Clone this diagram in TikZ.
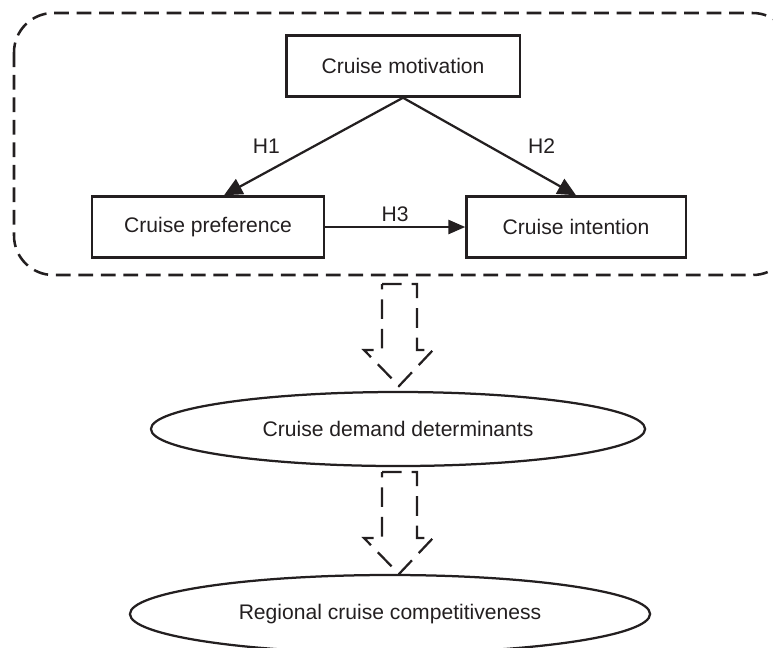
\documentclass[tikz,border=0pt]{standalone}
\usepackage{fontspec}
\setmainfont{Liberation Sans}
\usetikzlibrary{arrows.meta,shapes.geometric}
\definecolor{ink}{RGB}{35,31,32}
% hollow dashed arrow, centre x and top y given in pixel units
\def\hollowarrow(#1,#2){\draw[hollow] (#1-17,#2) -- (#1+18,#2) -- (#1+18,#2+66) -- (#1+34,#2+66) -- (#1,#2+102) -- (#1-35,#2+66) -- (#1-17,#2+66) -- cycle;}

\begin{document}
\begin{tikzpicture}[x=0.025cm, y=-0.025cm, font=\fontsize{15}{18}\selectfont,
	box/.style={draw=ink, line width=1.6pt, text=ink, minimum height=1.53cm},
	oval/.style={draw=ink, line width=1.6pt, text=ink, ellipse, inner sep=0pt},
	link/.style={draw=ink, line width=1.6pt, -{Triangle[length=13pt,width=12pt]}},
	lbl/.style={text=ink, inner sep=1pt},
	dashbox/.style={draw=ink, line width=1.8pt, dash pattern=on 10.5pt off 5.5pt, rounded corners=28pt},
	hollow/.style={draw=ink, line width=1.6pt, dash pattern=on 14pt off 7pt}]
	\clip (0,0) rectangle (773,647);
	
	%%%%% model %%%%%
	\draw[dashbox] (14,13) rectangle (792,275);
	
	\node[box, minimum width=5.83cm] (mot) at (403,66) {Cruise motivation};
	\node[box, minimum width=5.8cm] (pref) at (208,227) {Cruise preference};
	\node[box, minimum width=5.48cm] (int) at (576,227) {Cruise intention};
	
	\draw[link] (mot.south) -- ([xshift=0.4cm]pref.north) node[lbl, midway, xshift=-1.18cm] (h1) {H1};
	\draw[link] (mot.south) -- (int.north) node[lbl, midway, xshift=1.3cm] (h2) {H2};
	\draw[link, -{Triangle[length=12pt,width=10pt]}] (pref.east) -- (int.east -| int.west) node[lbl, midway, above=2pt] (h3) {H3};
	
	%%%%% determinants %%%%%
	\hollowarrow(399,284)
	\node[oval, minimum width=12.35cm, minimum height=1.85cm] (det) at (398,429) {Cruise demand determinants};
	
	\hollowarrow(399,472)
	\node[oval, minimum width=13cm, minimum height=1.95cm] (comp) at (390,614) {Regional cruise competitiveness};
\end{tikzpicture}
\end{document}
